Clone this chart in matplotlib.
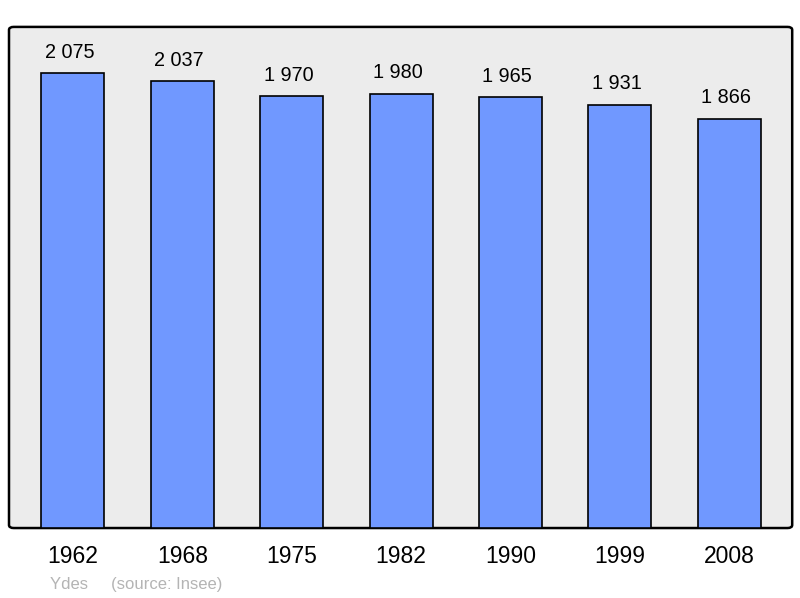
import matplotlib.pyplot as plt
from matplotlib.patches import FancyBboxPatch

years = ["1962", "1968", "1975", "1982", "1990", "1999", "2008"]
population = [2075, 2037, 1970, 1980, 1965, 1931, 1866]

plt.rcParams['font.family'] = ['Liberation Sans', 'DejaVu Sans']

fig = plt.figure(figsize=(8, 5.98), dpi=100)
ax = fig.add_axes([0.01125, 0.117, 0.979, 0.838])
ax.set_facecolor('none')

# rounded grey frame
frame = FancyBboxPatch((0, 0), 1, 1, boxstyle="round,pad=0,rounding_size=0.006",
                       transform=ax.transAxes, facecolor='#ececec', edgecolor='black',
                       linewidth=1.8, zorder=0, clip_on=False)
ax.add_patch(frame)

x = range(len(years))
bars = ax.bar(x, population, width=0.576, color='#7098ff', edgecolor='black',
              linewidth=1.2, zorder=2)

for xi, v in zip(x, population):
    label = f"{v:,}".replace(",", " ")
    ax.text(xi - 0.03, v + 70, label, ha='center', va='baseline', fontsize=14.3, zorder=3)

ax.set_xlim(-0.585, 6.576)
ax.set_ylim(0, 2285)
ax.set_xticks(list(x))
ax.set_xticklabels(years, fontsize=16.5)
ax.tick_params(axis='x', length=0, pad=12)
ax.set_yticks([])
for s in ax.spines.values():
    s.set_visible(False)

fig.text(50 / 800, 1 - 584 / 598, "Ydes     (source: Insee)", color='#b4b4b4',
         fontsize=12, va='center', ha='left')

fig.savefig("out.png", dpi=100)
